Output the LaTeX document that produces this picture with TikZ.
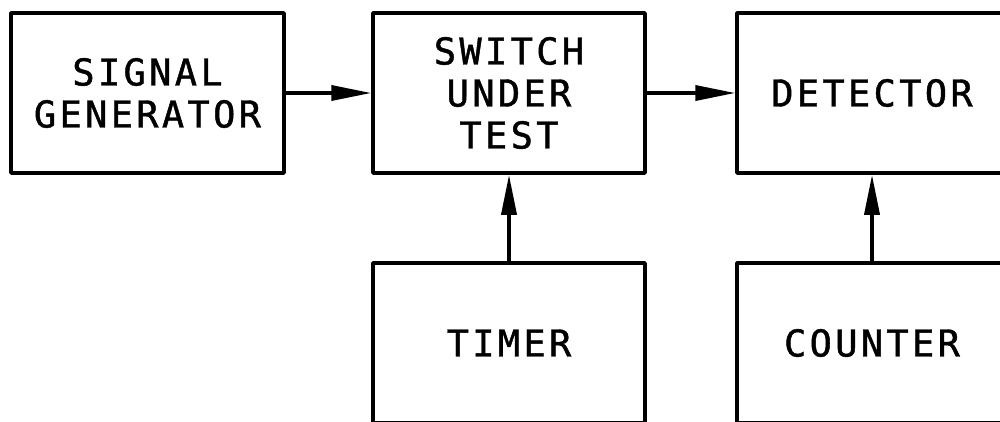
\documentclass[tikz,border=0pt]{standalone}
\usepackage{fontspec}
\newfontfamily\blockfont[LetterSpace=9,FakeBold=1.2]{DejaVu Sans Mono}
\usetikzlibrary{arrows.meta}
\begin{document}
\begin{tikzpicture}[x=1pt,y=-1pt,
  blockbox/.style={draw, line width=3.5pt, line join=round, inner sep=0pt,
    minimum height=160pt, align=center,
    font=\blockfont\fontsize{37}{42}\selectfont},
  link/.style={line width=3.5pt, -{Triangle[length=40pt,width=15pt]}}]
  \useasboundingbox (0,0) rectangle (1000,421);
  \clip (0,0) rectangle (1000,421);
  % upper row
  \node[blockbox, minimum width=273pt] (gen) at (147.5,93) {SIGNAL\\GENERATOR};
  \node[blockbox, minimum width=272pt] (sut) at (509,93) {SWITCH\\UNDER\\TEST};
  \node[blockbox, minimum width=270pt] (det) at (872,93) {DETECTOR};
  % lower row
  \node[blockbox, minimum width=272pt] (tim) at (509,343) {TIMER};
  \node[blockbox, minimum width=270pt] (cnt) at (872,343) {COUNTER};
  % signal paths
  \draw[link] (gen.east) -- (sut.west);
  \draw[link] (sut.east) -- (det.west);
  \draw[link] (tim.north) -- (sut.south);
  \draw[link] (cnt.north) -- (det.south);
\end{tikzpicture}
\end{document}
